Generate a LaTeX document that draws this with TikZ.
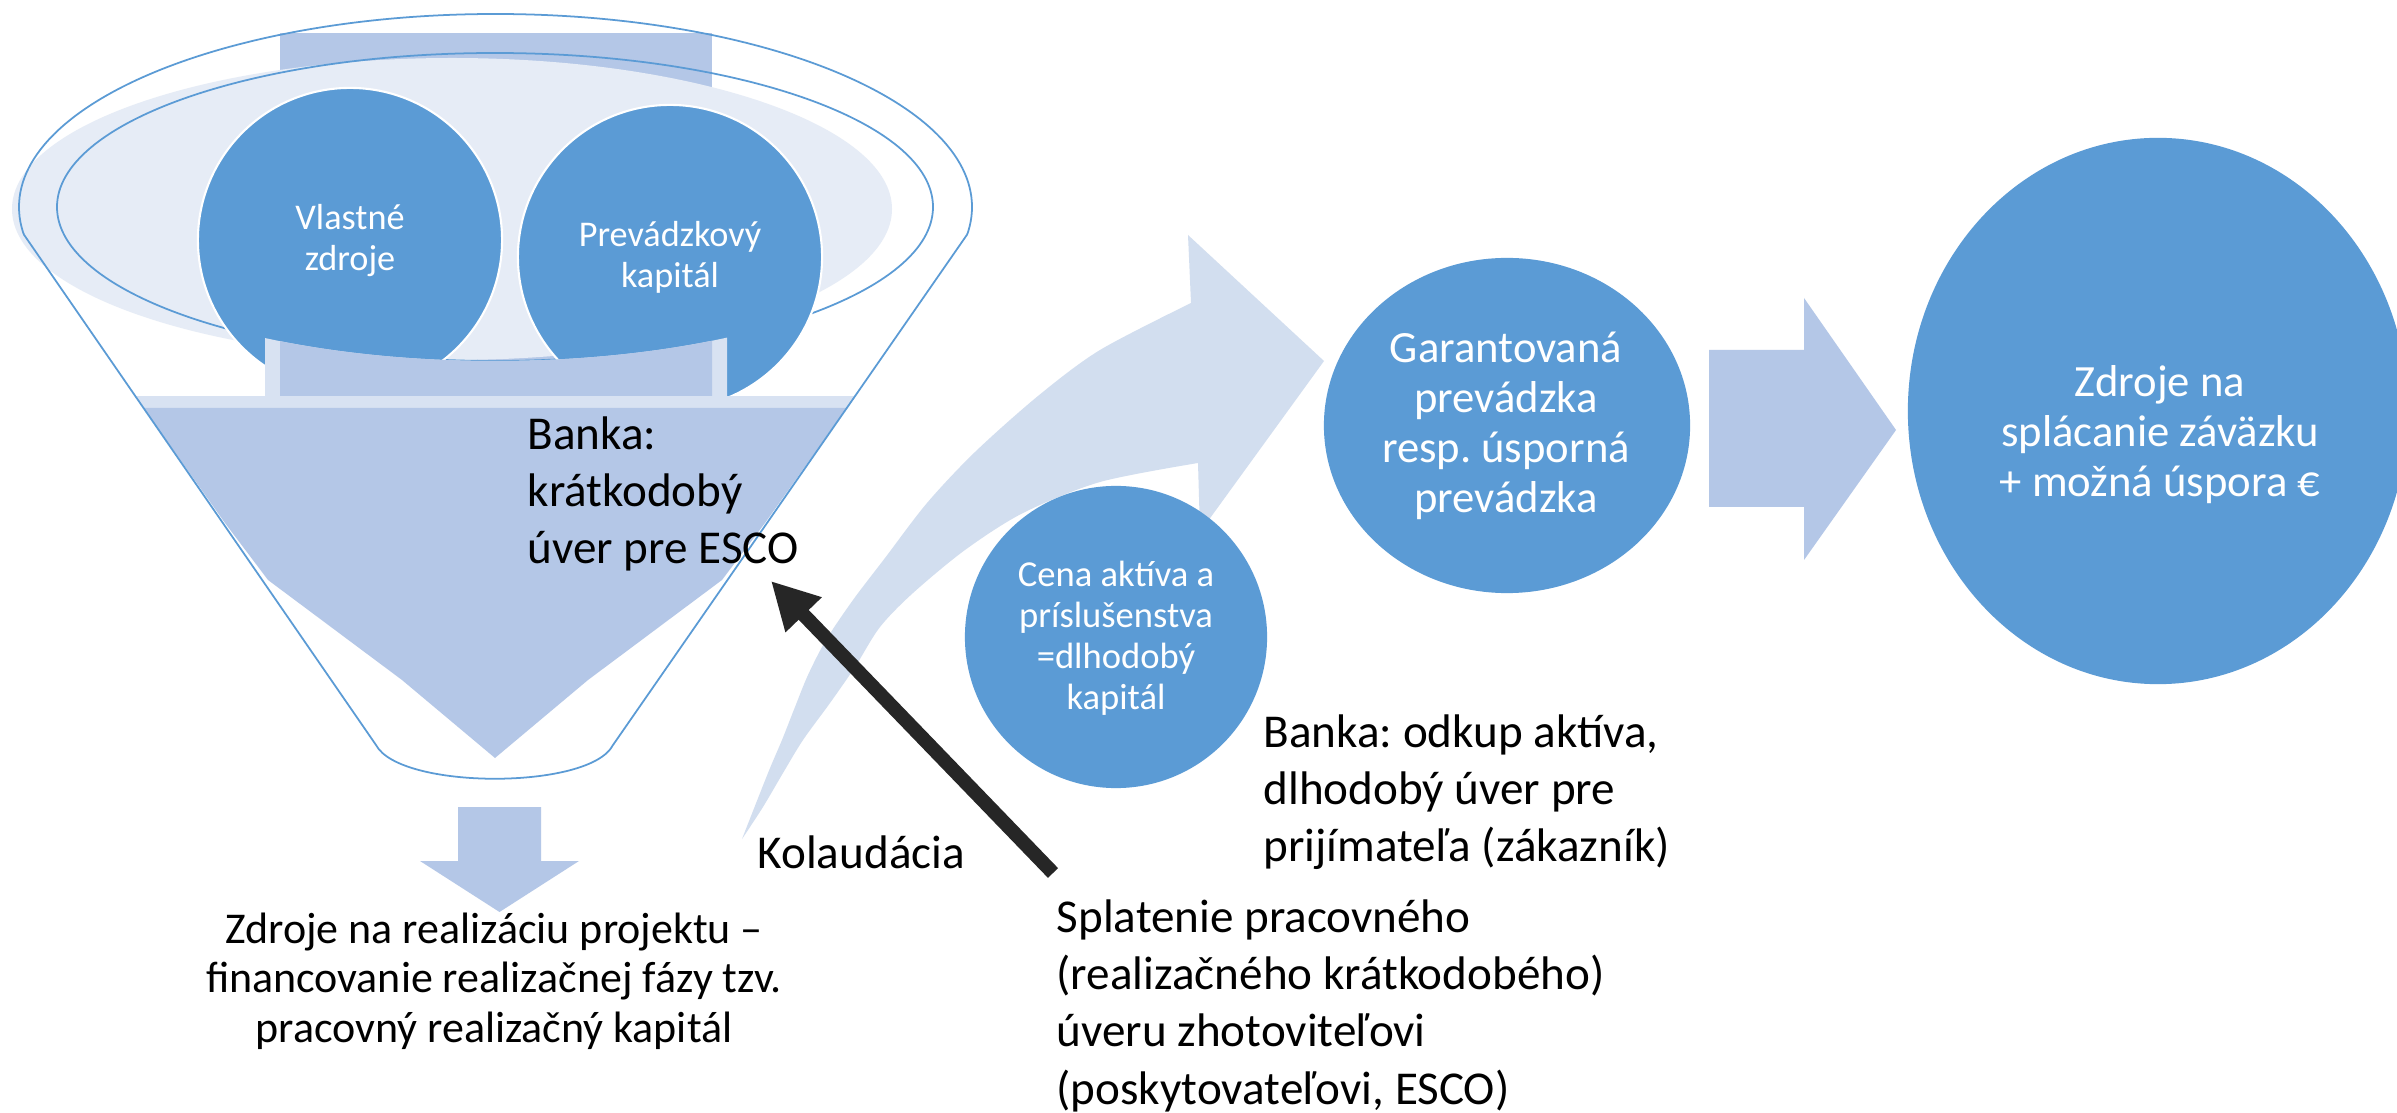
\documentclass[tikz,border=0pt]{standalone}
\usepackage{fontspec}
\setmainfont{Carlito}
\usetikzlibrary{shapes.geometric, arrows.meta}
\definecolor{cblue}{RGB}{91,155,213}
\definecolor{cmid}{RGB}{180,199,231}
\definecolor{clight}{RGB}{230,236,246}
\definecolor{ccurve}{RGB}{210,222,239}
\definecolor{csoft}{RGB}{216,226,242}
\definecolor{cblack}{RGB}{38,38,38}
\newcommand{\mlines}[2]{\begin{tabular}[t]{@{}#1@{}}#2\end{tabular}}
\newcommand{\fsCirc}{\fontsize{10.3pt}{11.65pt}\selectfont}
\newcommand{\fsCena}{\fontsize{10.4pt}{11.6pt}\selectfont}
\newcommand{\fsMid}{\fontsize{12.7pt}{14.2pt}\selectfont}
\newcommand{\fsBig}{\fontsize{13.4pt}{16.1pt}\selectfont}
\newcommand{\fsBot}{\fontsize{12.5pt}{14.2pt}\selectfont}
\newcommand{\fsSpl}{\fontsize{13.4pt}{16.35pt}\selectfont}
\frenchspacing
\begin{document}
\begin{tikzpicture}[x=0.01cm, y=-0.01cm,
  circ/.style={ellipse, fill=cblue, draw=white, line width=0.6pt, inner sep=0pt},
  rcirc/.style={ellipse, fill=cblue, draw=none, inner sep=0pt},
  fline/.style={draw=cblue, line width=0.5pt},
  txt/.style={inner sep=0pt, text=black},
  wtxt/.style={inner sep=0pt, text=white},
  blockarrow/.style={fill=cmid},
  bigarrow/.style={draw=cblack, line width=0.14cm, -{Triangle[length=0.47cm, width=0.47cm]}}
]
\fill[white] (0,0) rectangle (2397,1113);
\useasboundingbox (0,0) rectangle (2397,1113);
\clip (0,0) rectangle (2397,1113);

% ---------- funnel ----------
\fill[cmid] (280,33) rectangle (712,360);
\fill[clight] (452,209) ellipse [x radius=440, y radius=151];
\draw[fline] (495,207) ellipse [x radius=438, y radius=154];
\node[circ, minimum width=3.04cm, minimum height=3.04cm] (c1) at (350,240) {};
\node[circ, minimum width=3.04cm, minimum height=3.04cm] (c2) at (670,257) {};
% lower part of the bar, below the inner ellipse
\fill[csoft] plot[domain=265:727, samples=60] (\x, {207+154*sqrt(1-((\x-495)/438)^2)}) -- (727,409) -- (265,409) -- cycle;
\fill[cmid] plot[domain=280:712, samples=60] (\x, {207+154*sqrt(1-((\x-495)/438)^2)}) -- (712,409) -- (280,409) -- cycle;
\begin{scope}
  \clip (23,233) -- (376,745) -- (613,745) -- (968,235) -- cycle;
  \fill[csoft] (0,396) rectangle (1000,409);
\end{scope}
\fill[cmid] (143.6,408) -- (225,523) -- (268,580) -- (402,680) -- (495,758)
  -- (588,680) -- (722,580) -- (765,523) -- (846.5,408) -- cycle;
\begin{scope}
  \clip (0,0) rectangle (1000,234);
  \draw[fline] (495.5,207) ellipse [x radius=476.5, y radius=193];
\end{scope}
\draw[fline] (23.5,234) -- (376,745) .. controls (400,790) and (590,790) .. (613,745) -- (967.5,234);

\node[wtxt, anchor=base, font=\fsCirc] (t1) at (350,230) {\mlines{c}{Vlastné\\zdroje}};
\node[wtxt, anchor=base, font=\fsCirc] (t2) at (670,247) {\mlines{c}{Prevádzkový\\kapitál}};
\node[txt, anchor=base west, font=\fsBig] (t3) at (527,450) {\mlines{l}{Banka:\\krátkodobý\\úver pre ESCO}};

% down arrow below funnel
\fill[blockarrow] (458,807) -- (541,807) -- (541,861) -- (579,861) -- (499.5,912) -- (420,861) -- (458,861) -- cycle;
\node[txt, anchor=base, font=\fsBot] (t4) at (494,943) {\mlines{c}{Zdroje na realizáciu projektu –\\financovanie realizačnej fázy tzv.\\pracovný realizačný kapitál}};

% ---------- curved arrow ----------
\fill[ccurve] plot[smooth, tension=0.5] coordinates {(742,839) (768,773) (782,740) (795,707) (808,675) (826,640) (853,600) (885,558) (927,503) (975,452) (1038,396) (1100,350) (1191,303)}
  -- (1188,235) -- (1324,361) -- (1200,532) -- (1198,463)
  -- plot[smooth, tension=0.5] coordinates {(1198,463) (1100,482) (1023,513) (965,550) (913,593) (880,627) (855,667) (830,703) (803,740) (783,773) (763,807) (742,839)} -- cycle;

% ---------- circles on the right ----------
\node[rcirc, minimum width=3.02cm, minimum height=3.02cm] (cena) at (1116,637) {};
\node[wtxt, anchor=base, font=\fsCena] (t5) at (1116,587) {\mlines{c}{Cena aktíva a\\príslušenstva\\=dlhodobý\\kapitál}};

\node[rcirc, minimum width=3.66cm, minimum height=3.35cm] (gar) at (1507,425.5) {};
\node[wtxt, anchor=base, font=\fsMid] (t6) at (1506,363) {\mlines{c}{Garantovaná\\prevádzka\\resp. úsporná\\prevádzka}};

\fill[blockarrow] (1709,350) -- (1804,350) -- (1804,298) -- (1896,430) -- (1804,560) -- (1804,507) -- (1709,507) -- cycle;

\node[rcirc, minimum width=5.0cm, minimum height=5.46cm] (zdr) at (2158,411) {};
\node[wtxt, anchor=base, font=\fsMid] (t7) at (2160,397) {\mlines{c}{Zdroje na\\splácanie záväzku\\+ možná úspora €}};

% ---------- labels ----------
\node[txt, anchor=base west, font=\fsBig] (t8) at (1263,748) {\mlines{l}{Banka: odkup aktíva,\\dlhodobý úver pre\\prijímateľa (zákazník)}};
\node[txt, anchor=base west, font=\fsBig] (kol) at (757,868) {Kolaudácia};
\node[txt, anchor=base west, font=\fsSpl] (spl) at (1056,932) {\mlines{l}{Splatenie pracovného\\(realizačného krátkodobého)\\úveru zhotoviteľovi\\(poskytovateľovi, ESCO)}};

% ---------- black arrow ----------
\coordinate (bkTail) at (1053,873);
\coordinate (bkTip) at (771,581);
\draw[bigarrow] (bkTail) -- (bkTip);
\end{tikzpicture}
\end{document}
